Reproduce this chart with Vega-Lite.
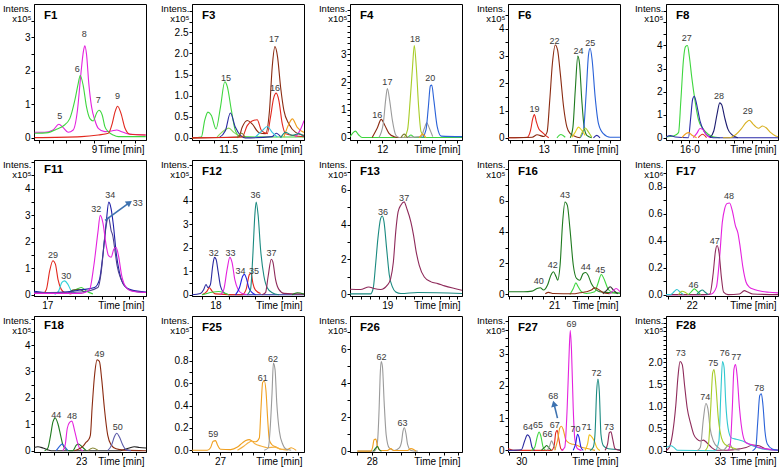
{
"$schema":"https://vega.github.io/schema/vega-lite/v6.json",
"background":"white",
"padding":{"left":1,"top":2,"right":0,"bottom":0},
"columns":5,
"spacing":{"row":20,"column":46},
"bounds":"flush",
"resolve":{"scale":{"color":"independent"}},
"config":{
 "view":{"stroke":"black","strokeWidth":1},
 "font":"Liberation Sans",
 "axis":{"grid":false,"domainColor":"black","tickColor":"black","tickSize":3,"labelFontSize":10,"labelColor":"black","labelPadding":1,"labelOverlap":false,"tickCount":100,"labelFont":"Liberation Sans","titleFont":"Liberation Sans","titleFontWeight":"normal","titleColor":"black"},
 "axisX":{"titleFontSize":10,"titleAlign":"right","titleBaseline":"alphabetic","titleX":110,"titleY":12.5,"labelPadding":1.5,"labelFlush":false,"labelOverlap":false},
 "axisY":{"titleAngle":0,"titleAlign":"right","titleBaseline":"top","titleX":-3,"titleY":-1,"titleFontSize":9.5,"titleLineHeight":10.5,"labelOverlap":false},
 "title":{"anchor":"start","frame":"group","offset":-18,"dx":10,"fontSize":11.5,"fontWeight":"bold","font":"Liberation Sans","color":"black","baseline":"alphabetic"},
 "line":{"strokeWidth":1.1,"interpolate":"monotone"},
 "text":{"fontSize":9,"color":"#3a3a3a","font":"Liberation Sans","baseline":"middle","align":"center"},
 "rule":{"color":"#3d72b0","strokeWidth":1.6}
},
"datasets":{
"F1":[
{"s":"5,8","t":8.568,"i":0.16},{"s":"5,8","t":8.641,"i":0.16},{"s":"5,8","t":8.702,"i":0.23},{"s":"5,8","t":8.744,"i":0.40},{"s":"5,8","t":8.776,"i":0.30},{"s":"5,8","t":8.812,"i":0.16},{"s":"5,8","t":8.849,"i":0.23},{"s":"5,8","t":8.880,"i":0.82},{"s":"5,8","t":8.905,"i":1.91},{"s":"5,8","t":8.924,"i":2.60},{"s":"5,8","t":8.934,"i":2.75},{"s":"5,8","t":8.946,"i":2.50},{"s":"5,8","t":8.963,"i":1.61},{"s":"5,8","t":8.983,"i":0.92},{"s":"5,8","t":9.007,"i":0.52},{"s":"5,8","t":9.032,"i":0.28},{"s":"5,8","t":9.080,"i":0.18},{"s":"5,8","t":9.129,"i":0.20},{"s":"5,8","t":9.166,"i":0.23},{"s":"5,8","t":9.202,"i":0.18},{"s":"5,8","t":9.251,"i":0.11},{"s":"5,8","t":9.378,"i":0.08},
{"s":"6,7","t":8.568,"i":0.13},{"s":"6,7","t":8.666,"i":0.15},{"s":"6,7","t":8.727,"i":0.25},{"s":"6,7","t":8.776,"i":0.35},{"s":"6,7","t":8.824,"i":0.57},{"s":"6,7","t":8.861,"i":1.12},{"s":"6,7","t":8.885,"i":1.61},{"s":"6,7","t":8.900,"i":1.86},{"s":"6,7","t":8.922,"i":1.56},{"s":"6,7","t":8.946,"i":0.92},{"s":"6,7","t":8.971,"i":0.57},{"s":"6,7","t":8.995,"i":0.50},{"s":"6,7","t":9.020,"i":0.74},{"s":"6,7","t":9.037,"i":0.82},{"s":"6,7","t":9.061,"i":0.67},{"s":"6,7","t":9.080,"i":0.33},{"s":"6,7","t":9.105,"i":0.18},{"s":"6,7","t":9.141,"i":0.08},{"s":"6,7","t":9.178,"i":0.03},{"s":"6,7","t":9.378,"i":0.03},
{"s":"9","t":8.568,"i":0.0},{"s":"9","t":8.910,"i":0.03},{"s":"9","t":9.032,"i":0.08},{"s":"9","t":9.105,"i":0.13},{"s":"9","t":9.134,"i":0.43},{"s":"9","t":9.154,"i":0.77},{"s":"9","t":9.173,"i":0.94},{"s":"9","t":9.198,"i":0.72},{"s":"9","t":9.227,"i":0.28},{"s":"9","t":9.263,"i":0.10},{"s":"9","t":9.378,"i":0.08}
],
"F1L":[{"l":"5","t":8.751,"i":0.64},{"l":"6","t":8.878,"i":2.04},{"l":"8","t":8.929,"i":3.10},{"l":"7","t":9.032,"i":1.12},{"l":"9","t":9.173,"i":1.25}],
"F3":[
{"s":"15","t":11.249,"i":0},{"s":"15","t":11.314,"i":0.02},{"s":"15","t":11.337,"i":0.41},{"s":"15","t":11.360,"i":0.61},{"s":"15","t":11.384,"i":0.53},{"s":"15","t":11.416,"i":0.21},{"s":"15","t":11.447,"i":0.73},{"s":"15","t":11.477,"i":1.33},{"s":"15","t":11.495,"i":1.21},{"s":"15","t":11.523,"i":0.65},{"s":"15","t":11.551,"i":0.17},{"s":"15","t":11.586,"i":0.03},{"s":"15","t":11.800,"i":0.02},{"s":"15","t":12.028,"i":0.02},
{"s":"x1","t":11.423,"i":0.02},{"s":"x1","t":11.470,"i":0.17},{"s":"x1","t":11.505,"i":0.23},{"s":"x1","t":11.540,"i":0.13},{"s":"x1","t":11.586,"i":0.02},
{"s":"x2","t":11.435,"i":0},{"s":"x2","t":11.481,"i":0.17},{"s":"x2","t":11.516,"i":0.59},{"s":"x2","t":11.551,"i":0.25},{"s":"x2","t":11.586,"i":0.06},{"s":"x2","t":11.621,"i":0},{"s":"x2","t":11.807,"i":0.03},{"s":"x2","t":11.835,"i":0.11},{"s":"x2","t":11.865,"i":0.03},
{"s":"17","t":11.249,"i":0},{"s":"17","t":11.574,"i":0.02},{"s":"17","t":11.598,"i":0.25},{"s":"17","t":11.633,"i":0.41},{"s":"17","t":11.667,"i":0.33},{"s":"17","t":11.714,"i":0.13},{"s":"17","t":11.760,"i":0.10},{"s":"17","t":11.788,"i":0.65},{"s":"17","t":11.807,"i":1.68},{"s":"17","t":11.826,"i":2.16},{"s":"17","t":11.844,"i":1.92},{"s":"17","t":11.865,"i":1.21},{"s":"17","t":11.888,"i":0.65},{"s":"17","t":11.923,"i":0.33},{"s":"17","t":11.970,"i":0.13},{"s":"17","t":12.028,"i":0.06},
{"s":"16","t":11.249,"i":0},{"s":"16","t":11.598,"i":0.02},{"s":"16","t":11.633,"i":0.29},{"s":"16","t":11.667,"i":0.40},{"s":"16","t":11.702,"i":0.43},{"s":"16","t":11.733,"i":0.17},{"s":"16","t":11.772,"i":0.10},{"s":"16","t":11.795,"i":0.49},{"s":"16","t":11.816,"i":0.93},{"s":"16","t":11.835,"i":1.06},{"s":"16","t":11.853,"i":0.89},{"s":"16","t":11.877,"i":0.33},{"s":"16","t":11.900,"i":0.10},{"s":"16","t":12.028,"i":0.03},
{"s":"x3","t":11.691,"i":0.02},{"s":"x3","t":11.737,"i":0.17},{"s":"x3","t":11.772,"i":0.27},{"s":"x3","t":11.807,"i":0.13},{"s":"x3","t":11.842,"i":0.02},
{"s":"x4","t":11.888,"i":0.02},{"s":"x4","t":11.923,"i":0.33},{"s":"x4","t":11.947,"i":0.45},{"s":"x4","t":11.981,"i":0.25},{"s":"x4","t":12.028,"i":0.13},
{"s":"x5","t":11.970,"i":0.02},{"s":"x5","t":12.005,"i":0.21},{"s":"x5","t":12.028,"i":0.41},
{"s":"x6","t":11.563,"i":0},{"s":"x6","t":11.593,"i":0.11},{"s":"x6","t":11.621,"i":0},
{"s":"x7","t":11.865,"i":0},{"s":"x7","t":11.900,"i":0.13},{"s":"x7","t":11.947,"i":0.06},{"s":"x7","t":11.993,"i":0.10},{"s":"x7","t":12.028,"i":0.03}
],
"F3L":[{"l":"15","t":11.486,"i":1.42},{"l":"17","t":11.819,"i":2.34},{"l":"16","t":11.826,"i":1.19}],
"F4":[
{"s":"x1","t":11.741,"i":0.04},{"s":"x1","t":11.762,"i":0.16},{"s":"x1","t":11.784,"i":0.24},{"s":"x1","t":11.811,"i":0.10},{"s":"x1","t":11.838,"i":0.01},{"s":"x1","t":12.203,"i":0.01},{"s":"x1","t":12.230,"i":0.10},{"s":"x1","t":12.257,"i":0.01},{"s":"x1","t":12.640,"i":0.01},
{"s":"16","t":11.919,"i":0.01},{"s":"16","t":11.959,"i":0.34},{"s":"16","t":11.992,"i":0.66},{"s":"16","t":12.019,"i":0.46},{"s":"16","t":12.054,"i":0.16},{"s":"16","t":12.095,"i":0.04},{"s":"16","t":12.135,"i":0.01},
{"s":"17","t":11.973,"i":0.01},{"s":"17","t":12.008,"i":0.51},{"s":"17","t":12.027,"i":1.35},{"s":"17","t":12.041,"i":1.77},{"s":"17","t":12.059,"i":1.35},{"s":"17","t":12.081,"i":0.63},{"s":"17","t":12.108,"i":0.10},{"s":"17","t":12.135,"i":0.01},{"s":"17","t":12.311,"i":0.04},{"s":"17","t":12.338,"i":0.34},{"s":"17","t":12.357,"i":0.54},{"s":"17","t":12.378,"i":0.34},{"s":"17","t":12.405,"i":0.04},
{"s":"18","t":12.176,"i":0.01},{"s":"18","t":12.203,"i":0.28},{"s":"18","t":12.224,"i":1.35},{"s":"18","t":12.243,"i":2.55},{"s":"18","t":12.257,"i":3.31},{"s":"18","t":12.273,"i":2.55},{"s":"18","t":12.292,"i":1.11},{"s":"18","t":12.311,"i":0.22},{"s":"18","t":12.338,"i":0.04},
{"s":"20","t":12.324,"i":0.01},{"s":"20","t":12.351,"i":0.28},{"s":"20","t":12.370,"i":1.11},{"s":"20","t":12.386,"i":1.86},{"s":"20","t":12.397,"i":1.89},{"s":"20","t":12.414,"i":1.35},{"s":"20","t":12.441,"i":0.40},{"s":"20","t":12.473,"i":0.06},{"s":"20","t":12.640,"i":0.04},
{"s":"x2","t":12.149,"i":0},{"s":"x2","t":12.176,"i":0.13},{"s":"x2","t":12.203,"i":0},
{"s":"x3","t":12.297,"i":0},{"s":"x3","t":12.324,"i":0.13},{"s":"x3","t":12.351,"i":0}
],
"F4L":[{"l":"16","t":11.959,"i":0.81},{"l":"17","t":12.041,"i":2.01},{"l":"18","t":12.262,"i":3.54},{"l":"20","t":12.386,"i":2.16}],
"F6":[
{"s":"19","t":12.678,"i":0},{"s":"19","t":12.851,"i":0.02},{"s":"19","t":12.881,"i":0.27},{"s":"19","t":12.901,"i":0.70},{"s":"19","t":12.916,"i":0.85},{"s":"19","t":12.934,"i":0.58},{"s":"19","t":12.955,"i":0.33},{"s":"19","t":12.985,"i":0.21},{"s":"19","t":13.015,"i":0.09},{"s":"19","t":13.045,"i":0},
{"s":"22","t":12.678,"i":0},{"s":"22","t":12.896,"i":0.02},{"s":"22","t":12.940,"i":0.11},{"s":"22","t":13.000,"i":0.05},{"s":"22","t":13.030,"i":0.21},{"s":"22","t":13.054,"i":1.37},{"s":"22","t":13.078,"i":2.72},{"s":"22","t":13.104,"i":3.40},{"s":"22","t":13.125,"i":3.21},{"s":"22","t":13.149,"i":2.36},{"s":"22","t":13.179,"i":1.13},{"s":"22","t":13.209,"i":0.39},{"s":"22","t":13.239,"i":0.15},{"s":"22","t":13.284,"i":0.05},{"s":"22","t":13.328,"i":0},
{"s":"24","t":13.239,"i":0},{"s":"24","t":13.263,"i":0.39},{"s":"24","t":13.284,"i":1.74},{"s":"24","t":13.307,"i":2.99},{"s":"24","t":13.322,"i":2.72},{"s":"24","t":13.343,"i":1.37},{"s":"24","t":13.364,"i":0.39},{"s":"24","t":13.388,"i":0.09},{"s":"24","t":13.433,"i":0},
{"s":"25","t":13.328,"i":0},{"s":"25","t":13.358,"i":0.27},{"s":"25","t":13.382,"i":1.62},{"s":"25","t":13.403,"i":3.03},{"s":"25","t":13.418,"i":3.28},{"s":"25","t":13.436,"i":2.85},{"s":"25","t":13.463,"i":1.50},{"s":"25","t":13.493,"i":0.52},{"s":"25","t":13.537,"i":0.15},{"s":"25","t":13.597,"i":0.02},{"s":"25","t":13.687,"i":0.02},
{"s":"x1","t":13.254,"i":0.02},{"s":"x1","t":13.284,"i":0.21},{"s":"x1","t":13.313,"i":0.39},{"s":"x1","t":13.343,"i":0.27},{"s":"x1","t":13.373,"i":0.09},
{"s":"x2","t":13.328,"i":0.02},{"s":"x2","t":13.352,"i":0.25},{"s":"x2","t":13.373,"i":0.36},{"s":"x2","t":13.403,"i":0.21},{"s":"x2","t":13.433,"i":0.02},
{"s":"x3","t":13.119,"i":0},{"s":"x3","t":13.155,"i":0.12},{"s":"x3","t":13.194,"i":0.02},
{"s":"x4","t":13.448,"i":0},{"s":"x4","t":13.478,"i":0.09},{"s":"x4","t":13.507,"i":0}
],
"F6L":[{"l":"19","t":12.916,"i":1.07},{"l":"22","t":13.096,"i":3.56},{"l":"24","t":13.313,"i":3.19},{"l":"25","t":13.418,"i":3.46}],
"F8":[
{"s":"27","t":15.737,"i":0.03},{"s":"27","t":15.822,"i":0.07},{"s":"27","t":15.878,"i":0.22},{"s":"27","t":15.904,"i":1.61},{"s":"27","t":15.933,"i":3.37},{"s":"27","t":15.956,"i":3.95},{"s":"27","t":15.978,"i":4.00},{"s":"27","t":16.000,"i":3.51},{"s":"27","t":16.026,"i":2.64},{"s":"27","t":16.063,"i":1.61},{"s":"27","t":16.100,"i":0.81},{"s":"27","t":16.156,"i":0.37},{"s":"27","t":16.211,"i":0.15},{"s":"27","t":16.267,"i":0.04},{"s":"27","t":16.341,"i":0},
{"s":"x1","t":15.737,"i":0.03},{"s":"x1","t":15.785,"i":0.09},{"s":"x1","t":15.841,"i":0.03},{"s":"x1","t":15.989,"i":0},{"s":"x1","t":16.015,"i":0.88},{"s":"x1","t":16.037,"i":1.68},{"s":"x1","t":16.056,"i":1.80},{"s":"x1","t":16.081,"i":1.46},{"s":"x1","t":16.119,"i":0.73},{"s":"x1","t":16.163,"i":0.29},{"s":"x1","t":16.211,"i":0.07},{"s":"x1","t":16.267,"i":0},{"s":"x1","t":16.996,"i":0},
{"s":"28","t":16.230,"i":0},{"s":"28","t":16.274,"i":0.29},{"s":"28","t":16.311,"i":1.02},{"s":"28","t":16.341,"i":1.51},{"s":"28","t":16.363,"i":1.43},{"s":"28","t":16.396,"i":0.88},{"s":"28","t":16.433,"i":0.37},{"s":"28","t":16.481,"i":0.12},{"s":"28","t":16.544,"i":0},
{"s":"x2","t":16.044,"i":0},{"s":"x2","t":16.089,"i":0.22},{"s":"x2","t":16.119,"i":0.40},{"s":"x2","t":16.148,"i":0.37},{"s":"x2","t":16.185,"i":0.15},{"s":"x2","t":16.230,"i":0},
{"s":"x3","t":15.915,"i":0},{"s":"x3","t":15.963,"i":0.18},{"s":"x3","t":15.989,"i":0.22},{"s":"x3","t":16.026,"i":0.12},{"s":"x3","t":16.081,"i":0},
{"s":"29","t":16.378,"i":0},{"s":"29","t":16.452,"i":0},{"s":"29","t":16.526,"i":0.15},{"s":"29","t":16.581,"i":0.37},{"s":"29","t":16.637,"i":0.66},{"s":"29","t":16.674,"i":0.76},{"s":"29","t":16.711,"i":0.61},{"s":"29","t":16.748,"i":0.47},{"s":"29","t":16.778,"i":0.41},{"s":"29","t":16.822,"i":0.51},{"s":"29","t":16.859,"i":0.44},{"s":"29","t":16.915,"i":0.22},{"s":"29","t":16.970,"i":0.07},{"s":"29","t":16.996,"i":0.04},
{"s":"x4","t":16.100,"i":0},{"s":"x4","t":16.148,"i":0.15},{"s":"x4","t":16.193,"i":0}
],
"F8L":[{"l":"27","t":15.970,"i":4.32},{"l":"28","t":16.333,"i":1.80},{"l":"29","t":16.656,"i":1.17}],
"F11":[
{"s":"29","t":16.902,"i":0.05},{"s":"29","t":16.968,"i":0.05},{"s":"29","t":16.993,"i":0.20},{"s":"29","t":17.017,"i":0.90},{"s":"29","t":17.041,"i":1.28},{"s":"29","t":17.059,"i":1.15},{"s":"29","t":17.078,"i":0.58},{"s":"29","t":17.102,"i":0.20},{"s":"29","t":17.127,"i":0.08},{"s":"29","t":17.176,"i":0.03},
{"s":"30","t":17.054,"i":0.01},{"s":"30","t":17.083,"i":0.14},{"s":"30","t":17.107,"i":0.46},{"s":"30","t":17.127,"i":0.52},{"s":"30","t":17.151,"i":0.39},{"s":"30","t":17.176,"i":0.14},{"s":"30","t":17.212,"i":0.05},
{"s":"x1","t":17.163,"i":0.03},{"s":"x1","t":17.212,"i":0.20},{"s":"x1","t":17.249,"i":0.27},{"s":"x1","t":17.285,"i":0.14},{"s":"x1","t":17.334,"i":0.03},
{"s":"x2","t":17.151,"i":0.05},{"s":"x2","t":17.195,"i":0.18},{"s":"x2","t":17.237,"i":0.20},{"s":"x2","t":17.273,"i":0.08},
{"s":"34","t":16.902,"i":0.13},{"s":"34","t":17.005,"i":0.08},{"s":"34","t":17.127,"i":0.10},{"s":"34","t":17.249,"i":0.18},{"s":"34","t":17.346,"i":0.27},{"s":"34","t":17.383,"i":0.58},{"s":"34","t":17.407,"i":1.47},{"s":"34","t":17.432,"i":2.73},{"s":"34","t":17.451,"i":3.49},{"s":"34","t":17.468,"i":3.24},{"s":"34","t":17.485,"i":2.61},{"s":"34","t":17.505,"i":1.59},{"s":"34","t":17.529,"i":0.84},{"s":"34","t":17.566,"i":0.33},{"s":"34","t":17.615,"i":0.18},{"s":"34","t":17.724,"i":0.10},
{"s":"33","t":16.902,"i":0.08},{"s":"33","t":17.249,"i":0.10},{"s":"33","t":17.371,"i":0.27},{"s":"33","t":17.395,"i":0.84},{"s":"33","t":17.415,"i":1.85},{"s":"33","t":17.432,"i":2.61},{"s":"33","t":17.449,"i":2.92},{"s":"33","t":17.468,"i":2.42},{"s":"33","t":17.480,"i":2.23},{"s":"33","t":17.498,"i":1.59},{"s":"33","t":17.512,"i":1.09},{"s":"33","t":17.541,"i":0.58},{"s":"33","t":17.578,"i":0.27},{"s":"33","t":17.627,"i":0.14},{"s":"33","t":17.724,"i":0.08},
{"s":"32","t":16.902,"i":0.05},{"s":"32","t":17.249,"i":0.05},{"s":"32","t":17.310,"i":0.20},{"s":"32","t":17.341,"i":1.09},{"s":"32","t":17.371,"i":2.35},{"s":"32","t":17.388,"i":2.99},{"s":"32","t":17.407,"i":2.73},{"s":"32","t":17.432,"i":1.85},{"s":"32","t":17.449,"i":1.47},{"s":"32","t":17.468,"i":1.41},{"s":"32","t":17.488,"i":1.72},{"s":"32","t":17.505,"i":1.78},{"s":"32","t":17.522,"i":1.47},{"s":"32","t":17.546,"i":0.71},{"s":"32","t":17.578,"i":0.27},{"s":"32","t":17.615,"i":0.14},{"s":"32","t":17.724,"i":0.08}
],
"F11L":[{"l":"29","t":17.041,"i":1.51},{"l":"30","t":17.139,"i":0.71},{"l":"32","t":17.359,"i":3.24},{"l":"34","t":17.461,"i":3.77},{"l":"33","t":17.663,"i":3.47}],
"F11A":[{"t":17.424,"i":2.80,"t2":17.602,"i2":3.47}],
"F12":[
{"s":"32","t":17.825,"i":0},{"s":"32","t":17.888,"i":0.06},{"s":"32","t":17.913,"i":0.23},{"s":"32","t":17.930,"i":0.44},{"s":"32","t":17.945,"i":0.30},{"s":"32","t":17.963,"i":0.44},{"s":"32","t":17.980,"i":1.23},{"s":"32","t":17.993,"i":1.59},{"s":"32","t":18.005,"i":1.51},{"s":"32","t":18.020,"i":1.01},{"s":"32","t":18.038,"i":0.37},{"s":"32","t":18.063,"i":0.09},{"s":"32","t":18.100,"i":0},{"s":"32","t":18.663,"i":0},
{"s":"35","t":17.900,"i":0},{"s":"35","t":17.938,"i":0.16},{"s":"35","t":17.955,"i":0.30},{"s":"35","t":17.975,"i":0.16},{"s":"35","t":18.000,"i":0.04},{"s":"35","t":18.200,"i":0},{"s":"35","t":18.230,"i":0.23},{"s":"35","t":18.255,"i":0.87},{"s":"35","t":18.268,"i":0.91},{"s":"35","t":18.280,"i":0.51},{"s":"35","t":18.300,"i":0.20},{"s":"35","t":18.338,"i":0.06},
{"s":"x1","t":17.900,"i":0},{"s":"x1","t":17.975,"i":0.11},{"s":"x1","t":18.025,"i":0.14},{"s":"x1","t":18.063,"i":0.09},{"s":"x1","t":18.100,"i":0},
{"s":"33","t":18.038,"i":0},{"s":"33","t":18.063,"i":0.23},{"s":"33","t":18.088,"i":1.09},{"s":"33","t":18.108,"i":1.59},{"s":"33","t":18.125,"i":1.37},{"s":"33","t":18.145,"i":0.66},{"s":"33","t":18.170,"i":0.23},{"s":"33","t":18.200,"i":0.06},{"s":"33","t":18.250,"i":0},
{"s":"34","t":18.150,"i":0},{"s":"34","t":18.180,"i":0.30},{"s":"34","t":18.205,"i":0.80},{"s":"34","t":18.218,"i":0.87},{"s":"34","t":18.230,"i":0.73},{"s":"34","t":18.250,"i":0.30},{"s":"34","t":18.275,"i":0.09},{"s":"34","t":18.300,"i":0},
{"s":"36","t":18.238,"i":0},{"s":"36","t":18.263,"i":0.23},{"s":"36","t":18.280,"i":1.66},{"s":"36","t":18.295,"i":3.37},{"s":"36","t":18.305,"i":3.94},{"s":"36","t":18.320,"i":3.37},{"s":"36","t":18.338,"i":1.94},{"s":"36","t":18.363,"i":0.80},{"s":"36","t":18.388,"i":0.30},{"s":"36","t":18.425,"i":0.09},{"s":"36","t":18.475,"i":0},
{"s":"37","t":18.350,"i":0},{"s":"37","t":18.375,"i":0.09},{"s":"37","t":18.395,"i":0.80},{"s":"37","t":18.418,"i":1.51},{"s":"37","t":18.430,"i":1.40},{"s":"37","t":18.450,"i":0.66},{"s":"37","t":18.475,"i":0.23},{"s":"37","t":18.513,"i":0.06},{"s":"37","t":18.663,"i":0.03},
{"s":"x2","t":18.575,"i":0},{"s":"x2","t":18.613,"i":0.09},{"s":"x2","t":18.663,"i":0.03}
],
"F12L":[{"l":"32","t":17.988,"i":1.77},{"l":"33","t":18.113,"i":1.77},{"l":"34","t":18.188,"i":1.01},{"l":"35","t":18.288,"i":1.01},{"l":"36","t":18.300,"i":4.23},{"l":"37","t":18.420,"i":1.77}],
"F13":[
{"s":"36","t":18.573,"i":0.02},{"s":"36","t":18.808,"i":0.02},{"s":"36","t":18.838,"i":0.33},{"s":"36","t":18.865,"i":1.66},{"s":"36","t":18.892,"i":3.19},{"s":"36","t":18.923,"i":4.34},{"s":"36","t":18.942,"i":4.49},{"s":"36","t":18.962,"i":4.15},{"s":"36","t":18.992,"i":2.62},{"s":"36","t":19.023,"i":1.09},{"s":"36","t":19.058,"i":0.42},{"s":"36","t":19.096,"i":0.13},{"s":"36","t":19.154,"i":0.04},{"s":"36","t":19.346,"i":0.10},{"s":"36","t":19.854,"i":0.04},
{"s":"37","t":18.573,"i":0.29},{"s":"37","t":18.692,"i":0.27},{"s":"37","t":18.788,"i":0.42},{"s":"37","t":18.846,"i":0.33},{"s":"37","t":18.923,"i":0.27},{"s":"37","t":19.000,"i":0.52},{"s":"37","t":19.038,"i":0.90},{"s":"37","t":19.069,"i":1.85},{"s":"37","t":19.096,"i":3.58},{"s":"37","t":19.123,"i":4.72},{"s":"37","t":19.154,"i":5.11},{"s":"37","t":19.192,"i":5.30},{"s":"37","t":19.223,"i":4.91},{"s":"37","t":19.269,"i":4.15},{"s":"37","t":19.300,"i":3.38},{"s":"37","t":19.327,"i":2.52},{"s":"37","t":19.365,"i":1.66},{"s":"37","t":19.423,"i":0.99},{"s":"37","t":19.500,"i":0.71},{"s":"37","t":19.577,"i":0.61},{"s":"37","t":19.654,"i":0.48},{"s":"37","t":19.769,"i":0.33},{"s":"37","t":19.854,"i":0.23}
],
"F13L":[{"l":"36","t":18.950,"i":4.72},{"l":"37","t":19.192,"i":5.54}],
"F16":[
{"s":"40-44","t":20.588,"i":0.17},{"s":"40-44","t":20.729,"i":0.17},{"s":"40-44","t":20.803,"i":0.21},{"s":"40-44","t":20.847,"i":0.38},{"s":"40-44","t":20.876,"i":0.43},{"s":"40-44","t":20.906,"i":0.28},{"s":"40-44","t":20.941,"i":0.60},{"s":"40-44","t":20.971,"i":1.23},{"s":"40-44","t":20.994,"i":1.45},{"s":"40-44","t":21.018,"i":1.13},{"s":"40-44","t":21.032,"i":0.91},{"s":"40-44","t":21.053,"i":1.87},{"s":"40-44","t":21.076,"i":4.64},{"s":"40-44","t":21.097,"i":5.91},{"s":"40-44","t":21.118,"i":5.70},{"s":"40-44","t":21.141,"i":4.21},{"s":"40-44","t":21.171,"i":1.87},{"s":"40-44","t":21.200,"i":1.02},{"s":"40-44","t":21.229,"i":0.91},{"s":"40-44","t":21.259,"i":1.34},{"s":"40-44","t":21.282,"i":1.40},{"s":"40-44","t":21.303,"i":1.23},{"s":"40-44","t":21.332,"i":0.70},{"s":"40-44","t":21.362,"i":0.38},{"s":"40-44","t":21.406,"i":0.17},{"s":"40-44","t":21.465,"i":0.13},{"s":"40-44","t":21.588,"i":0.09},
{"s":"45","t":21.141,"i":0},{"s":"45","t":21.171,"i":0.38},{"s":"45","t":21.194,"i":0.74},{"s":"45","t":21.215,"i":0.49},{"s":"45","t":21.244,"i":0.17},{"s":"45","t":21.288,"i":0.06},{"s":"45","t":21.362,"i":0.17},{"s":"45","t":21.391,"i":0.70},{"s":"45","t":21.421,"i":1.28},{"s":"45","t":21.450,"i":0.91},{"s":"45","t":21.479,"i":0.38},{"s":"45","t":21.509,"i":0.17},{"s":"45","t":21.588,"i":0.06},
{"s":"x1","t":20.921,"i":0.04},{"s":"x1","t":20.950,"i":0.13},{"s":"x1","t":20.994,"i":0.06},{"s":"x1","t":21.171,"i":0.04},{"s":"x1","t":21.229,"i":0.11},{"s":"x1","t":21.288,"i":0.17},{"s":"x1","t":21.332,"i":0.28},{"s":"x1","t":21.362,"i":0.43},{"s":"x1","t":21.391,"i":0.34},{"s":"x1","t":21.435,"i":0.13},{"s":"x1","t":21.494,"i":0.04},
{"s":"x2","t":21.435,"i":0.04},{"s":"x2","t":21.471,"i":0.28},{"s":"x2","t":21.500,"i":0.49},{"s":"x2","t":21.529,"i":0.28},{"s":"x2","t":21.568,"i":0.04},
{"s":"x3","t":21.494,"i":0.04},{"s":"x3","t":21.524,"i":0.21},{"s":"x3","t":21.553,"i":0.38},{"s":"x3","t":21.588,"i":0.17}
],
"F16L":[{"l":"40","t":20.862,"i":0.85},{"l":"42","t":20.988,"i":1.91},{"l":"43","t":21.097,"i":6.38},{"l":"44","t":21.282,"i":1.77},{"l":"45","t":21.412,"i":1.55}],
"F17":[
{"s":"48","t":21.783,"i":0},{"s":"48","t":22.125,"i":0},{"s":"48","t":22.167,"i":0.005},{"s":"48","t":22.208,"i":0.056},{"s":"48","t":22.236,"i":0.284},{"s":"48","t":22.258,"i":0.537},{"s":"48","t":22.278,"i":0.638},{"s":"48","t":22.297,"i":0.676},{"s":"48","t":22.319,"i":0.681},{"s":"48","t":22.342,"i":0.625},{"s":"48","t":22.369,"i":0.511},{"s":"48","t":22.389,"i":0.461},{"s":"48","t":22.408,"i":0.359},{"s":"48","t":22.431,"i":0.208},{"s":"48","t":22.458,"i":0.094},{"s":"48","t":22.486,"i":0.056},{"s":"48","t":22.528,"i":0.038},{"s":"48","t":22.597,"i":0.023},{"s":"48","t":22.653,"i":0.018},{"s":"48","t":22.728,"i":0.013},
{"s":"47","t":21.783,"i":0},{"s":"47","t":22.097,"i":0},{"s":"47","t":22.153,"i":0.005},{"s":"47","t":22.181,"i":0.157},{"s":"47","t":22.200,"i":0.322},{"s":"47","t":22.214,"i":0.365},{"s":"47","t":22.231,"i":0.309},{"s":"47","t":22.250,"i":0.132},{"s":"47","t":22.269,"i":0.018},{"s":"47","t":22.306,"i":0},{"s":"47","t":22.403,"i":0.005},{"s":"47","t":22.444,"i":0.030},{"s":"47","t":22.472,"i":0.020},{"s":"47","t":22.514,"i":0.005},{"s":"47","t":22.728,"i":0},
{"s":"x1","t":21.783,"i":0},{"s":"x1","t":21.819,"i":0},{"s":"x1","t":21.853,"i":0.023},{"s":"x1","t":21.875,"i":0.038},{"s":"x1","t":21.903,"i":0.018},{"s":"x1","t":21.931,"i":0},
{"s":"x2","t":21.889,"i":0},{"s":"x2","t":21.917,"i":0.025},{"s":"x2","t":21.944,"i":0.018},{"s":"x2","t":21.972,"i":0},
{"s":"46","t":21.972,"i":0},{"s":"46","t":22.000,"i":0.025},{"s":"46","t":22.022,"i":0.043},{"s":"46","t":22.047,"i":0.025},{"s":"46","t":22.075,"i":0},
{"s":"x3","t":22.042,"i":0},{"s":"x3","t":22.069,"i":0.025},{"s":"x3","t":22.089,"i":0.035},{"s":"x3","t":22.111,"i":0.020},{"s":"x3","t":22.139,"i":0}
],
"F17L":[{"l":"46","t":22.014,"i":0.073},{"l":"47","t":22.194,"i":0.40},{"l":"48","t":22.314,"i":0.73}],
"F18":[
{"s":"x1","t":22.654,"i":0.12},{"s":"x1","t":22.683,"i":0.15},{"s":"x1","t":22.720,"i":0.10},{"s":"x1","t":22.751,"i":0.04},{"s":"x1","t":22.780,"i":0},{"s":"x1","t":23.290,"i":0},{"s":"x1","t":23.317,"i":0.04},{"s":"x1","t":23.354,"i":0.10},{"s":"x1","t":23.390,"i":0.15},{"s":"x1","t":23.427,"i":0.12},{"s":"x1","t":23.476,"i":0.10},
{"s":"44","t":22.732,"i":0},{"s":"44","t":22.756,"i":0.10},{"s":"44","t":22.776,"i":0.59},{"s":"44","t":22.793,"i":1.09},{"s":"44","t":22.810,"i":1.24},{"s":"44","t":22.829,"i":1.03},{"s":"44","t":22.849,"i":0.59},{"s":"44","t":22.866,"i":0.22},{"s":"44","t":22.890,"i":0.04},{"s":"44","t":22.915,"i":0},{"s":"44","t":22.939,"i":0},{"s":"44","t":22.963,"i":0.20},{"s":"44","t":22.980,"i":0.25},{"s":"44","t":23.005,"i":0.16},{"s":"44","t":23.037,"i":0},
{"s":"x2","t":22.817,"i":0},{"s":"x2","t":22.841,"i":0.16},{"s":"x2","t":22.859,"i":0.25},{"s":"x2","t":22.878,"i":0.16},{"s":"x2","t":22.902,"i":0},
{"s":"48","t":22.866,"i":0},{"s":"48","t":22.883,"i":0.22},{"s":"48","t":22.898,"i":0.84},{"s":"48","t":22.915,"i":1.07},{"s":"48","t":22.932,"i":1.12},{"s":"48","t":22.951,"i":0.78},{"s":"48","t":22.971,"i":0.35},{"s":"48","t":22.988,"i":0.10},{"s":"48","t":23.012,"i":0},
{"s":"49","t":22.951,"i":0},{"s":"49","t":22.976,"i":0.04},{"s":"49","t":23.012,"i":0.16},{"s":"49","t":23.037,"i":0.32},{"s":"49","t":23.054,"i":0.41},{"s":"49","t":23.068,"i":0.59},{"s":"49","t":23.080,"i":1.59},{"s":"49","t":23.098,"i":2.83},{"s":"49","t":23.117,"i":3.44},{"s":"49","t":23.134,"i":3.38},{"s":"49","t":23.151,"i":2.70},{"s":"49","t":23.171,"i":1.59},{"s":"49","t":23.195,"i":0.59},{"s":"49","t":23.220,"i":0.22},{"s":"49","t":23.256,"i":0.07},{"s":"49","t":23.317,"i":0.02},{"s":"49","t":23.476,"i":0},
{"s":"50","t":23.195,"i":0},{"s":"50","t":23.224,"i":0.22},{"s":"50","t":23.244,"i":0.53},{"s":"50","t":23.261,"i":0.66},{"s":"50","t":23.280,"i":0.53},{"s":"50","t":23.305,"i":0.22},{"s":"50","t":23.329,"i":0.04},{"s":"50","t":23.366,"i":0},
{"s":"x3","t":23.049,"i":0},{"s":"x3","t":23.085,"i":0.10},{"s":"x3","t":23.122,"i":0.02}
],
"F18L":[{"l":"44","t":22.817,"i":1.36},{"l":"48","t":22.932,"i":1.31},{"l":"49","t":23.134,"i":3.67},{"l":"50","t":23.268,"i":0.88}],
"F25":[
{"s":"59,61","t":26.748,"i":0},{"s":"59,61","t":26.885,"i":0},{"s":"59,61","t":26.915,"i":0.023},{"s":"59,61","t":26.939,"i":0.081},{"s":"59,61","t":26.961,"i":0.087},{"s":"59,61","t":26.976,"i":0.052},{"s":"59,61","t":27.006,"i":0.009},{"s":"59,61","t":27.097,"i":0.006},{"s":"59,61","t":27.158,"i":0.029},{"s":"59,61","t":27.203,"i":0.067},{"s":"59,61","t":27.233,"i":0.087},{"s":"59,61","t":27.264,"i":0.096},{"s":"59,61","t":27.294,"i":0.081},{"s":"59,61","t":27.324,"i":0.076},{"s":"59,61","t":27.355,"i":0.110},{"s":"59,61","t":27.370,"i":0.372},{"s":"59,61","t":27.385,"i":0.605},{"s":"59,61","t":27.400,"i":0.619},{"s":"59,61","t":27.415,"i":0.532},{"s":"59,61","t":27.430,"i":0.285},{"s":"59,61","t":27.445,"i":0.096},{"s":"59,61","t":27.467,"i":0.052},{"s":"59,61","t":27.506,"i":0.029},{"s":"59,61","t":27.552,"i":0.009},{"s":"59,61","t":27.612,"i":0.009},{"s":"59,61","t":27.642,"i":0.023},{"s":"59,61","t":27.688,"i":0},
{"s":"x1","t":27.158,"i":0},{"s":"x1","t":27.218,"i":0.038},{"s":"x1","t":27.255,"i":0.067},{"s":"x1","t":27.285,"i":0.081},{"s":"x1","t":27.315,"i":0.058},{"s":"x1","t":27.370,"i":0.038},{"s":"x1","t":27.430,"i":0.023},{"s":"x1","t":27.491,"i":0.029},{"s":"x1","t":27.552,"i":0.009},{"s":"x1","t":27.612,"i":0},
{"s":"62","t":27.400,"i":0},{"s":"62","t":27.436,"i":0.023},{"s":"62","t":27.455,"i":0.227},{"s":"62","t":27.470,"i":0.517},{"s":"62","t":27.482,"i":0.779},{"s":"62","t":27.497,"i":0.721},{"s":"62","t":27.512,"i":0.430},{"s":"62","t":27.536,"i":0.169},{"s":"62","t":27.567,"i":0.052},{"s":"62","t":27.597,"i":0.009},{"s":"62","t":27.642,"i":0}
],
"F25L":[{"l":"59","t":26.939,"i":0.15},{"l":"61","t":27.385,"i":0.65},{"l":"62","t":27.479,"i":0.82}],
"F26":[
{"s":"62,63","t":27.900,"i":0},{"s":"62,63","t":28.016,"i":0},{"s":"62,63","t":28.028,"i":0.10},{"s":"62,63","t":28.040,"i":0.57},{"s":"62,63","t":28.051,"i":2.49},{"s":"62,63","t":28.058,"i":4.41},{"s":"62,63","t":28.065,"i":5.27},{"s":"62,63","t":28.074,"i":4.98},{"s":"62,63","t":28.086,"i":2.87},{"s":"62,63","t":28.100,"i":0.96},{"s":"62,63","t":28.121,"i":0.19},{"s":"62,63","t":28.156,"i":0.04},{"s":"62,63","t":28.191,"i":0.19},{"s":"62,63","t":28.207,"i":0.57},{"s":"62,63","t":28.216,"i":1.15},{"s":"62,63","t":28.226,"i":1.38},{"s":"62,63","t":28.237,"i":1.05},{"s":"62,63","t":28.249,"i":0.38},{"s":"62,63","t":28.272,"i":0.04},{"s":"62,63","t":28.319,"i":0},
{"s":"x1","t":27.900,"i":0},{"s":"x1","t":27.993,"i":0},{"s":"x1","t":28.005,"i":0.19},{"s":"x1","t":28.016,"i":0.67},{"s":"x1","t":28.028,"i":0.71},{"s":"x1","t":28.040,"i":0.29},{"s":"x1","t":28.063,"i":0.04},{"s":"x1","t":28.109,"i":0.04},{"s":"x1","t":28.133,"i":0.15},{"s":"x1","t":28.151,"i":0.04},{"s":"x1","t":28.249,"i":0.04},{"s":"x1","t":28.272,"i":0.15},{"s":"x1","t":28.291,"i":0.10},{"s":"x1","t":28.307,"i":0},
{"s":"x2","t":28.012,"i":0},{"s":"x2","t":28.028,"i":0.19},{"s":"x2","t":28.040,"i":0.27},{"s":"x2","t":28.051,"i":0.10},{"s":"x2","t":28.067,"i":0}
],
"F26L":[{"l":"62","t":28.067,"i":5.56},{"l":"63","t":28.214,"i":1.63}],
"F27":[
{"s":"67","t":29.892,"i":0.05},{"s":"67","t":29.919,"i":0.02},{"s":"67","t":29.946,"i":0},{"s":"67","t":30.243,"i":0},{"s":"67","t":30.265,"i":0.15},{"s":"67","t":30.278,"i":0.55},{"s":"67","t":30.289,"i":0.62},{"s":"67","t":30.303,"i":0.35},{"s":"67","t":30.319,"i":0.05},{"s":"67","t":30.338,"i":0},
{"s":"64","t":29.892,"i":0},{"s":"64","t":30.000,"i":0.02},{"s":"64","t":30.027,"i":0.30},{"s":"64","t":30.049,"i":0.48},{"s":"64","t":30.068,"i":0.40},{"s":"64","t":30.086,"i":0.10},{"s":"64","t":30.108,"i":0},
{"s":"65","t":30.081,"i":0},{"s":"65","t":30.108,"i":0.10},{"s":"65","t":30.130,"i":0.45},{"s":"65","t":30.143,"i":0.57},{"s":"65","t":30.157,"i":0.45},{"s":"65","t":30.176,"i":0.10},{"s":"65","t":30.195,"i":0},
{"s":"x1","t":30.162,"i":0},{"s":"x1","t":30.189,"i":0.10},{"s":"x1","t":30.205,"i":0.15},{"s":"x1","t":30.222,"i":0.08},{"s":"x1","t":30.243,"i":0},
{"s":"66","t":30.211,"i":0},{"s":"66","t":30.230,"i":0.15},{"s":"66","t":30.243,"i":0.30},{"s":"66","t":30.257,"i":0.20},{"s":"66","t":30.276,"i":0.02},
{"s":"68","t":30.270,"i":0},{"s":"68","t":30.292,"i":0.30},{"s":"68","t":30.311,"i":0.70},{"s":"68","t":30.324,"i":0.75},{"s":"68","t":30.338,"i":0.65},{"s":"68","t":30.357,"i":0.35},{"s":"68","t":30.378,"i":0.25},{"s":"68","t":30.405,"i":0.20},{"s":"68","t":30.432,"i":0.18},{"s":"68","t":30.486,"i":0.10},{"s":"68","t":30.541,"i":0.05},{"s":"68","t":30.595,"i":0},
{"s":"69","t":30.324,"i":0},{"s":"69","t":30.351,"i":0.10},{"s":"69","t":30.370,"i":1.31},{"s":"69","t":30.384,"i":2.81},{"s":"69","t":30.395,"i":3.72},{"s":"69","t":30.405,"i":3.12},{"s":"69","t":30.419,"i":1.31},{"s":"69","t":30.432,"i":0.35},{"s":"69","t":30.454,"i":0.05},{"s":"69","t":30.486,"i":0},
{"s":"70","t":30.419,"i":0},{"s":"70","t":30.438,"i":0.20},{"s":"70","t":30.454,"i":0.50},{"s":"70","t":30.465,"i":0.42},{"s":"70","t":30.481,"i":0.10},{"s":"70","t":30.500,"i":0},
{"s":"71","t":30.514,"i":0},{"s":"71","t":30.535,"i":0.20},{"s":"71","t":30.549,"i":0.48},{"s":"71","t":30.562,"i":0.45},{"s":"71","t":30.576,"i":0.38},{"s":"71","t":30.589,"i":0.30},{"s":"71","t":30.608,"i":0.10},{"s":"71","t":30.635,"i":0},
{"s":"72","t":30.554,"i":0},{"s":"72","t":30.581,"i":0.10},{"s":"72","t":30.595,"i":0.50},{"s":"72","t":30.608,"i":1.81},{"s":"72","t":30.619,"i":2.21},{"s":"72","t":30.630,"i":1.81},{"s":"72","t":30.643,"i":0.50},{"s":"72","t":30.662,"i":0.15},{"s":"72","t":30.703,"i":0.05},{"s":"72","t":30.797,"i":0.02},
{"s":"73","t":30.676,"i":0},{"s":"73","t":30.697,"i":0.20},{"s":"73","t":30.711,"i":0.55},{"s":"73","t":30.724,"i":0.58},{"s":"73","t":30.738,"i":0.35},{"s":"73","t":30.757,"i":0.05},{"s":"73","t":30.797,"i":0}
],
"F27L":[{"l":"64","t":30.054,"i":0.72},{"l":"65","t":30.135,"i":0.78},{"l":"66","t":30.211,"i":0.50},{"l":"67","t":30.270,"i":0.78},{"l":"69","t":30.405,"i":3.92},{"l":"70","t":30.438,"i":0.65},{"l":"71","t":30.527,"i":0.72},{"l":"72","t":30.608,"i":2.39},{"l":"73","t":30.708,"i":0.72},{"l":"68","t":30.257,"i":1.69}],
"F27A":[{"t":30.292,"i":1.00,"t2":30.263,"i2":1.45}],
"F28":[
{"s":"73","t":32.566,"i":0},{"s":"73","t":32.592,"i":0.07},{"s":"73","t":32.618,"i":0.37},{"s":"73","t":32.645,"i":1.03},{"s":"73","t":32.663,"i":1.69},{"s":"73","t":32.679,"i":2.02},{"s":"73","t":32.697,"i":1.95},{"s":"73","t":32.716,"i":1.47},{"s":"73","t":32.737,"i":0.96},{"s":"73","t":32.763,"i":0.63},{"s":"73","t":32.789,"i":0.37},{"s":"73","t":32.816,"i":0.26},{"s":"73","t":32.842,"i":0.22},{"s":"73","t":32.868,"i":0.24},{"s":"73","t":32.895,"i":0.18},{"s":"73","t":32.934,"i":0.07},{"s":"73","t":32.974,"i":0.01},{"s":"73","t":33.053,"i":0.01},{"s":"73","t":33.158,"i":0.04},{"s":"73","t":33.211,"i":0.07},{"s":"73","t":33.263,"i":0.13},{"s":"73","t":33.316,"i":0.11},{"s":"73","t":33.368,"i":0.04},{"s":"73","t":33.468,"i":0.01},
{"s":"76","t":32.566,"i":0.07},{"s":"76","t":32.605,"i":0.11},{"s":"76","t":32.632,"i":0.07},{"s":"76","t":32.658,"i":0.01},{"s":"76","t":32.961,"i":0},{"s":"76","t":32.992,"i":0.22},{"s":"76","t":33.008,"i":1.32},{"s":"76","t":33.021,"i":2.02},{"s":"76","t":33.034,"i":1.88},{"s":"76","t":33.047,"i":1.10},{"s":"76","t":33.066,"i":0.51},{"s":"76","t":33.092,"i":0.29},{"s":"76","t":33.132,"i":0.26},{"s":"76","t":33.184,"i":0.22},{"s":"76","t":33.263,"i":0.11},{"s":"76","t":33.342,"i":0.04},{"s":"76","t":33.468,"i":0.01},
{"s":"74","t":32.816,"i":0},{"s":"74","t":32.842,"i":0.07},{"s":"74","t":32.868,"i":0.74},{"s":"74","t":32.887,"i":1.07},{"s":"74","t":32.903,"i":0.96},{"s":"74","t":32.921,"i":0.51},{"s":"74","t":32.947,"i":0.22},{"s":"74","t":32.987,"i":0.07},{"s":"74","t":33.026,"i":0.01},{"s":"74","t":33.079,"i":0.15},{"s":"74","t":33.105,"i":0.04},{"s":"74","t":33.158,"i":0.01},
{"s":"75","t":32.882,"i":0},{"s":"75","t":32.908,"i":0.15},{"s":"75","t":32.926,"i":0.96},{"s":"75","t":32.942,"i":1.76},{"s":"75","t":32.953,"i":1.84},{"s":"75","t":32.968,"i":1.47},{"s":"75","t":32.987,"i":0.74},{"s":"75","t":33.013,"i":0.29},{"s":"75","t":33.039,"i":0.15},{"s":"75","t":33.079,"i":0.09},{"s":"75","t":33.132,"i":0.04},
{"s":"77","t":33.066,"i":0},{"s":"77","t":33.084,"i":0.15},{"s":"77","t":33.100,"i":0.96},{"s":"77","t":33.113,"i":1.84},{"s":"77","t":33.126,"i":1.95},{"s":"77","t":33.139,"i":1.69},{"s":"77","t":33.158,"i":0.96},{"s":"77","t":33.184,"i":0.37},{"s":"77","t":33.211,"i":0.18},{"s":"77","t":33.263,"i":0.13},{"s":"77","t":33.316,"i":0.07},{"s":"77","t":33.368,"i":0.04},{"s":"77","t":33.468,"i":0.01},
{"s":"78","t":33.263,"i":0},{"s":"78","t":33.289,"i":0.07},{"s":"78","t":33.305,"i":0.66},{"s":"78","t":33.321,"i":1.25},{"s":"78","t":33.334,"i":1.29},{"s":"78","t":33.347,"i":1.03},{"s":"78","t":33.363,"i":0.44},{"s":"78","t":33.382,"i":0.15},{"s":"78","t":33.421,"i":0.04},{"s":"78","t":33.468,"i":0.01}
],
"F28L":[{"l":"73","t":32.684,"i":2.21},{"l":"74","t":32.882,"i":1.21},{"l":"75","t":32.947,"i":1.99},{"l":"76","t":33.039,"i":2.21},{"l":"77","t":33.132,"i":2.13},{"l":"78","t":33.316,"i":1.43}]
},
"concat":[
{"width":112,"height":136,"title":{"text":"F1"},"layer":[
 {"data":{"name":"F1"},"mark":{"type":"line","clip":true},"encoding":{
  "x":{"field":"t","type":"quantitative","scale":{"domain":[8.563,9.38],"nice":false,"zero":false},"axis":{"title":"Time [min]","labelOverlap":false,"tickCount":100,"values":[8.6,8.7,8.8,8.9,9,9.1,9.2,9.3],"labelExpr":"abs(datum.value - 9) < 0.001 ? '9' : ''"}},
  "y":{"field":"i","type":"quantitative","scale":{"domain":[-0.07,4],"nice":false,"zero":false},"axis":{"title":["Intens.","x10⁵"],"labelOverlap":false,"tickCount":100,"format":".0f","values":[0,0.5,1,1.5,2,2.5,3,3.5],"labelExpr":"indexof([0,1,2,3],datum.value) >= 0 ? datum.label : ''"}},
  "color":{"field":"s","type":"nominal","scale":{"domain":["5,8","6,7","9"],"range":["#e422de","#3ed63e","#e2281e"]},"legend":null}}},
 {"data":{"name":"F1L"},"mark":{"type":"text"},"encoding":{"x":{"field":"t","type":"quantitative"},"y":{"field":"i","type":"quantitative"},"text":{"field":"l"}}}
]},
{"width":112,"height":136,"title":{"text":"F3"},"layer":[
 {"data":{"name":"F3"},"mark":{"type":"line","clip":true},"encoding":{
  "x":{"field":"t","type":"quantitative","scale":{"domain":[11.249,12.028],"nice":false,"zero":false},"axis":{"title":"Time [min]","labelOverlap":false,"tickCount":100,"values":[11.3,11.4,11.5,11.6,11.7,11.8,11.9,12.0],"labelExpr":"abs(datum.value - 11.5) < 0.001 ? '11.5' : ''"}},
  "y":{"field":"i","type":"quantitative","scale":{"domain":[-0.05,3.17],"nice":false,"zero":false},"axis":{"title":["Intens.","x10⁵"],"labelOverlap":false,"tickCount":100,"format":".1f","values":[0,0.25,0.5,0.75,1,1.25,1.5,1.75,2,2.25,2.5,2.75,3],"labelExpr":"indexof([0,0.5,1,1.5,2,2.5],datum.value) >= 0 ? datum.label : ''"}},
  "color":{"field":"s","type":"nominal","scale":{"domain":["15","x1","x2","17","16","x3","x4","x5","x6","x7"],"range":["#3ed63e","#8cd45a","#2a2aa0","#8a2a10","#e2281e","#30c4e0","#f0a020","#e422de","#7a7a30","#1a8a80"]},"legend":null}}},
 {"data":{"name":"F3L"},"mark":{"type":"text"},"encoding":{"x":{"field":"t","type":"quantitative"},"y":{"field":"i","type":"quantitative"},"text":{"field":"l"}}}
]},
{"width":112,"height":136,"title":{"text":"F4"},"layer":[
 {"data":{"name":"F4"},"mark":{"type":"line","clip":true},"encoding":{
  "x":{"field":"t","type":"quantitative","scale":{"domain":[11.741,12.64],"nice":false,"zero":false},"axis":{"title":"Time [min]","labelOverlap":false,"tickCount":100,"values":[11.8,11.9,12,12.1,12.2,12.3,12.4,12.5,12.6],"labelExpr":"abs(datum.value - 12) < 0.001 ? '12' : ''"}},
  "y":{"field":"i","type":"quantitative","scale":{"domain":[-0.08,4.8],"nice":false,"zero":false},"axis":{"title":["Intens.","x10⁵"],"labelOverlap":false,"tickCount":100,"format":".0f","values":[0,0.2,0.4,0.6,0.8,1,1.2,1.4,1.6,1.8,2,2.2,2.4,2.6,2.8,3,3.2,3.4,3.6,3.8,4,4.2,4.4,4.6],"labelExpr":"indexof([0,1,2,3],datum.value) >= 0 ? datum.label : ''"}},
  "color":{"field":"s","type":"nominal","scale":{"domain":["x1","16","17","18","20","x2","x3"],"range":["#3ed63e","#8a2a10","#9a9a9a","#a8cc28","#2a62d8","#7a7a30","#f0a020"]},"legend":null}}},
 {"data":{"name":"F4L"},"mark":{"type":"text"},"encoding":{"x":{"field":"t","type":"quantitative"},"y":{"field":"i","type":"quantitative"},"text":{"field":"l"}}}
]},
{"width":112,"height":136,"title":{"text":"F6"},"layer":[
 {"data":{"name":"F6"},"mark":{"type":"line","clip":true},"encoding":{
  "x":{"field":"t","type":"quantitative","scale":{"domain":[12.678,13.687],"nice":false,"zero":false},"axis":{"title":"Time [min]","labelOverlap":false,"tickCount":100,"values":[12.7,12.8,12.9,13,13.1,13.2,13.3,13.4,13.5,13.6],"labelExpr":"abs(datum.value - 13) < 0.001 ? '13' : ''"}},
  "y":{"field":"i","type":"quantitative","scale":{"domain":[-0.08,4.9],"nice":false,"zero":false},"axis":{"title":["Intens.","x10⁵"],"labelOverlap":false,"tickCount":100,"format":".0f","values":[0,0.5,1,1.5,2,2.5,3,3.5,4,4.5],"labelExpr":"indexof([0,1,2,3,4],datum.value) >= 0 ? datum.label : ''"}},
  "color":{"field":"s","type":"nominal","scale":{"domain":["19","22","24","25","x1","x2","x3","x4"],"range":["#e2281e","#8a2a10","#1f7a1f","#2a62d8","#e8d020","#a8cc28","#3ed63e","#2a2aa0"]},"legend":null}}},
 {"data":{"name":"F6L"},"mark":{"type":"text"},"encoding":{"x":{"field":"t","type":"quantitative"},"y":{"field":"i","type":"quantitative"},"text":{"field":"l"}}}
]},
{"width":112,"height":136,"title":{"text":"F8"},"layer":[
 {"data":{"name":"F8"},"mark":{"type":"line","clip":true},"encoding":{
  "x":{"field":"t","type":"quantitative","scale":{"domain":[15.737,16.996],"nice":false,"zero":false},"axis":{"title":"Time [min]","labelOverlap":false,"tickCount":100,"values":[15.8,15.9,16,16.1,16.2,16.3,16.4,16.5,16.6,16.7,16.8,16.9],"labelExpr":"abs(datum.value - 16) < 0.001 ? '16·0' : ''"}},
  "y":{"field":"i","type":"quantitative","scale":{"domain":[-0.1,5.8],"nice":false,"zero":false},"axis":{"title":["Intens.","x10⁵"],"labelOverlap":false,"tickCount":100,"format":".0f","values":[0,0.5,1,1.5,2,2.5,3,3.5,4,4.5,5,5.5],"labelExpr":"indexof([0,1,2,3,4],datum.value) >= 0 ? datum.label : ''"}},
  "color":{"field":"s","type":"nominal","scale":{"domain":["27","x1","28","x2","x3","29","x4"],"range":["#3ed63e","#2a2aa8","#1c1c70","#e422de","#f0a020","#d8b020","#e2281e"]},"legend":null}}},
 {"data":{"name":"F8L"},"mark":{"type":"text"},"encoding":{"x":{"field":"t","type":"quantitative"},"y":{"field":"i","type":"quantitative"},"text":{"field":"l"}}}
]},
{"width":112,"height":136,"title":{"text":"F11"},"layer":[
 {"data":{"name":"F11"},"mark":{"type":"line","clip":true},"encoding":{
  "x":{"field":"t","type":"quantitative","scale":{"domain":[16.902,17.724],"nice":false,"zero":false},"axis":{"title":"Time [min]","labelOverlap":false,"tickCount":100,"values":[17,17.1,17.2,17.3,17.4,17.5,17.6,17.7],"labelExpr":"abs(datum.value - 17) < 0.001 ? '17' : ''"}},
  "y":{"field":"i","type":"quantitative","scale":{"domain":[-0.05,5.08],"nice":false,"zero":false},"axis":{"title":["Intens.","x10⁵"],"labelOverlap":false,"tickCount":100,"format":".0f","values":[0,0.5,1,1.5,2,2.5,3,3.5,4,4.5,5],"labelExpr":"indexof([0,1,2,3,4],datum.value) >= 0 ? datum.label : ''"}},
  "color":{"field":"s","type":"nominal","scale":{"domain":["29","30","x1","x2","34","33","32"],"range":["#e2281e","#30d0d8","#3ed63e","#556622","#1f1fa8","#4b3f8f","#e422de"]},"legend":null}}},
 {"data":{"name":"F11L"},"mark":{"type":"text"},"encoding":{"x":{"field":"t","type":"quantitative"},"y":{"field":"i","type":"quantitative"},"text":{"field":"l"}}},
 {"data":{"name":"F11A"},"mark":{"type":"rule"},"encoding":{"x":{"field":"t","type":"quantitative"},"y":{"field":"i","type":"quantitative"},"x2":{"field":"t2"},"y2":{"field":"i2"}}},
 {"data":{"name":"F11A"},"mark":{"type":"point","shape":"triangle-up","filled":true,"opacity":1,"angle":54,"size":50,"color":"#3d72b0"},"encoding":{"x":{"field":"t2","type":"quantitative"},"y":{"field":"i2","type":"quantitative"}}}
]},
{"width":112,"height":136,"title":{"text":"F12"},"layer":[
 {"data":{"name":"F12"},"mark":{"type":"line","clip":true},"encoding":{
  "x":{"field":"t","type":"quantitative","scale":{"domain":[17.825,18.663],"nice":false,"zero":false},"axis":{"title":"Time [min]","labelOverlap":false,"tickCount":100,"values":[17.9,18,18.1,18.2,18.3,18.4,18.5,18.6],"labelExpr":"abs(datum.value - 18) < 0.001 ? '18' : ''"}},
  "y":{"field":"i","type":"quantitative","scale":{"domain":[-0.05,5.73],"nice":false,"zero":false},"axis":{"title":["Intens.","x10⁵"],"labelOverlap":false,"tickCount":100,"format":".0f","values":[0,0.5,1,1.5,2,2.5,3,3.5,4,4.5,5,5.5],"labelExpr":"indexof([0,1,2,3,4],datum.value) >= 0 ? datum.label : ''"}},
  "color":{"field":"s","type":"nominal","scale":{"domain":["32","35","x1","33","34","36","37","x2"],"range":["#2a2aa0","#e2281e","#3ed63e","#e422de","#2020e0","#1a8a80","#8e2a5a","#1f7a1f"]},"legend":null}}},
 {"data":{"name":"F12L"},"mark":{"type":"text"},"encoding":{"x":{"field":"t","type":"quantitative"},"y":{"field":"i","type":"quantitative"},"text":{"field":"l"}}}
]},
{"width":112,"height":136,"title":{"text":"F13"},"layer":[
 {"data":{"name":"F13"},"mark":{"type":"line","clip":true},"encoding":{
  "x":{"field":"t","type":"quantitative","scale":{"domain":[18.573,19.854],"nice":false,"zero":false},"axis":{"title":"Time [min]","labelOverlap":false,"tickCount":100,"values":[18.6,18.7,18.8,18.9,19,19.1,19.2,19.3,19.4,19.5,19.6,19.7,19.8],"labelExpr":"abs(datum.value - 19) < 0.001 ? '19' : ''"}},
  "y":{"field":"i","type":"quantitative","scale":{"domain":[-0.1,7.7],"nice":false,"zero":false},"axis":{"title":["Intens.","x10⁵"],"labelOverlap":false,"tickCount":100,"format":".0f","values":[0,1,2,3,4,5,6,7],"labelExpr":"indexof([0,2,4,6],datum.value) >= 0 ? datum.label : ''"}},
  "color":{"field":"s","type":"nominal","scale":{"domain":["36","37"],"range":["#1a8a80","#8e2a5a"]},"legend":null}}},
 {"data":{"name":"F13L"},"mark":{"type":"text"},"encoding":{"x":{"field":"t","type":"quantitative"},"y":{"field":"i","type":"quantitative"},"text":{"field":"l"}}}
]},
{"width":112,"height":136,"title":{"text":"F16"},"layer":[
 {"data":{"name":"F16"},"mark":{"type":"line","clip":true},"encoding":{
  "x":{"field":"t","type":"quantitative","scale":{"domain":[20.588,21.588],"nice":false,"zero":false},"axis":{"title":"Time [min]","labelOverlap":false,"tickCount":100,"values":[20.6,20.7,20.8,20.9,21,21.1,21.2,21.3,21.4,21.5],"labelExpr":"abs(datum.value - 21) < 0.001 ? '21' : ''"}},
  "y":{"field":"i","type":"quantitative","scale":{"domain":[-0.1,8.6],"nice":false,"zero":false},"axis":{"title":["Intens.","x10⁵"],"labelOverlap":false,"tickCount":100,"format":".0f","values":[0,1,2,3,4,5,6,7,8],"labelExpr":"indexof([0,2,4,6],datum.value) >= 0 ? datum.label : ''"}},
  "color":{"field":"s","type":"nominal","scale":{"domain":["40-44","45","x1","x2","x3"],"range":["#1f7a1f","#3ed63e","#8a2a10","#333333","#e422de"]},"legend":null}}},
 {"data":{"name":"F16L"},"mark":{"type":"text"},"encoding":{"x":{"field":"t","type":"quantitative"},"y":{"field":"i","type":"quantitative"},"text":{"field":"l"}}}
]},
{"width":112,"height":136,"title":{"text":"F17"},"layer":[
 {"data":{"name":"F17"},"mark":{"type":"line","clip":true},"encoding":{
  "x":{"field":"t","type":"quantitative","scale":{"domain":[21.783,22.728],"nice":false,"zero":false},"axis":{"title":"Time [min]","labelOverlap":false,"tickCount":100,"values":[21.8,21.9,22,22.1,22.2,22.3,22.4,22.5,22.6,22.7],"labelExpr":"abs(datum.value - 22) < 0.001 ? '22' : ''"}},
  "y":{"field":"i","type":"quantitative","scale":{"domain":[-0.01,1.0],"nice":false,"zero":false},"axis":{"title":["Intens.","x10⁶"],"labelOverlap":false,"tickCount":100,"format":".1f","values":[0,0.1,0.2,0.3,0.4,0.5,0.6,0.7,0.8,0.9],"labelExpr":"indexof([0,0.2,0.4,0.6,0.8],datum.value) >= 0 ? datum.label : ''"}},
  "color":{"field":"s","type":"nominal","scale":{"domain":["48","47","x1","x2","46","x3"],"range":["#e422de","#8e2a5a","#30c4d0","#a8cc28","#3ed63e","#1a8a80"]},"legend":null}}},
 {"data":{"name":"F17L"},"mark":{"type":"text"},"encoding":{"x":{"field":"t","type":"quantitative"},"y":{"field":"i","type":"quantitative"},"text":{"field":"l"}}}
]},
{"width":112,"height":136,"title":{"text":"F18"},"layer":[
 {"data":{"name":"F18"},"mark":{"type":"line","clip":true},"encoding":{
  "x":{"field":"t","type":"quantitative","scale":{"domain":[22.654,23.476],"nice":false,"zero":false},"axis":{"title":"Time [min]","labelOverlap":false,"tickCount":100,"values":[22.7,22.8,22.9,23,23.1,23.2,23.3,23.4],"labelExpr":"abs(datum.value - 23) < 0.001 ? '23' : ''"}},
  "y":{"field":"i","type":"quantitative","scale":{"domain":[-0.05,5.1],"nice":false,"zero":false},"axis":{"title":["Intens.","x10⁵"],"labelOverlap":false,"tickCount":100,"format":".0f","values":[0,0.5,1,1.5,2,2.5,3,3.5,4,4.5,5],"labelExpr":"indexof([0,1,2,3,4],datum.value) >= 0 ? datum.label : ''"}},
  "color":{"field":"s","type":"nominal","scale":{"domain":["x1","44","x2","48","49","50","x3"],"range":["#222222","#1f7a1f","#2a62d8","#e422de","#8a2a10","#5a5aa8","#8a8a3a"]},"legend":null}}},
 {"data":{"name":"F18L"},"mark":{"type":"text"},"encoding":{"x":{"field":"t","type":"quantitative"},"y":{"field":"i","type":"quantitative"},"text":{"field":"l"}}}
]},
{"width":112,"height":136,"title":{"text":"F25"},"layer":[
 {"data":{"name":"F25"},"mark":{"type":"line","clip":true},"encoding":{
  "x":{"field":"t","type":"quantitative","scale":{"domain":[26.748,27.758],"nice":false,"zero":false},"axis":{"title":"Time [min]","labelOverlap":false,"tickCount":100,"values":[26.8,26.9,27,27.1,27.2,27.3,27.4,27.5,27.6,27.7],"labelExpr":"abs(datum.value - 27) < 0.001 ? '27' : ''"}},
  "y":{"field":"i","type":"quantitative","scale":{"domain":[-0.015,1.2],"nice":false,"zero":false},"axis":{"title":["Intens.","x10⁵"],"labelOverlap":false,"tickCount":100,"format":".1f","values":[0,0.1,0.2,0.3,0.4,0.5,0.6,0.7,0.8,0.9,1.0,1.1],"labelExpr":"indexof([0,0.2,0.4,0.6,0.8],datum.value) >= 0 ? datum.label : ''"}},
  "color":{"field":"s","type":"nominal","scale":{"domain":["59,61","x1","62"],"range":["#f0a020","#f4b040","#9a9a9a"]},"legend":null}}},
 {"data":{"name":"F25L"},"mark":{"type":"text"},"encoding":{"x":{"field":"t","type":"quantitative"},"y":{"field":"i","type":"quantitative"},"text":{"field":"l"}}}
]},
{"width":112,"height":136,"title":{"text":"F26"},"layer":[
 {"data":{"name":"F26"},"mark":{"type":"line","clip":true},"encoding":{
  "x":{"field":"t","type":"quantitative","scale":{"domain":[27.849,28.626],"nice":false,"zero":false},"axis":{"title":"Time [min]","labelOverlap":false,"tickCount":100,"values":[27.9,28,28.1,28.2,28.3,28.4,28.5,28.6],"labelExpr":"abs(datum.value - 28) < 0.001 ? '28' : ''"}},
  "y":{"field":"i","type":"quantitative","scale":{"domain":[-0.05,7.95],"nice":false,"zero":false},"axis":{"title":["Intens.","x10⁵"],"labelOverlap":false,"tickCount":100,"format":".0f","values":[0,1,2,3,4,5,6,7],"labelExpr":"indexof([0,2,4,6],datum.value) >= 0 ? datum.label : ''"}},
  "color":{"field":"s","type":"nominal","scale":{"domain":["62,63","x1","x2"],"range":["#9a9a9a","#f0a020","#1f7a1f"]},"legend":null}}},
 {"data":{"name":"F26L"},"mark":{"type":"text"},"encoding":{"x":{"field":"t","type":"quantitative"},"y":{"field":"i","type":"quantitative"},"text":{"field":"l"}}}
]},
{"width":112,"height":136,"title":{"text":"F27"},"layer":[
 {"data":{"name":"F27"},"mark":{"type":"line","clip":true},"encoding":{
  "x":{"field":"t","type":"quantitative","scale":{"domain":[29.892,30.797],"nice":false,"zero":false},"axis":{"title":"Time [min]","labelOverlap":false,"tickCount":100,"values":[29.9,30,30.1,30.2,30.3,30.4,30.5,30.6,30.7],"labelExpr":"abs(datum.value - 30) < 0.001 ? '30' : ''"}},
  "y":{"field":"i","type":"quantitative","scale":{"domain":[-0.05,4.17],"nice":false,"zero":false},"axis":{"title":["Intens.","x10⁵"],"labelOverlap":false,"tickCount":100,"format":".0f","values":[0,0.25,0.5,0.75,1,1.25,1.5,1.75,2,2.25,2.5,2.75,3,3.25,3.5,3.75,4],"labelExpr":"indexof([0,1,2,3],datum.value) >= 0 ? datum.label : ''"}},
  "color":{"field":"s","type":"nominal","scale":{"domain":["67","64","65","x1","66","68","69","70","71","72","73"],"range":["#e2281e","#2a2aa0","#3ed63e","#1f7a1f","#9a9a9a","#f0a020","#e422de","#2020e0","#f0c020","#1a8a80","#8e2a5a"]},"legend":null}}},
 {"data":{"name":"F27L"},"mark":{"type":"text"},"encoding":{"x":{"field":"t","type":"quantitative"},"y":{"field":"i","type":"quantitative"},"text":{"field":"l"}}},
 {"data":{"name":"F27A"},"mark":{"type":"rule"},"encoding":{"x":{"field":"t","type":"quantitative"},"y":{"field":"i","type":"quantitative"},"x2":{"field":"t2"},"y2":{"field":"i2"}}},
 {"data":{"name":"F27A"},"mark":{"type":"point","shape":"triangle-up","filled":true,"opacity":1,"angle":346,"size":50,"color":"#3d72b0"},"encoding":{"x":{"field":"t2","type":"quantitative"},"y":{"field":"i2","type":"quantitative"}}}
]},
{"width":112,"height":136,"title":{"text":"F28"},"layer":[
 {"data":{"name":"F28"},"mark":{"type":"line","clip":true},"encoding":{
  "x":{"field":"t","type":"quantitative","scale":{"domain":[32.566,33.468],"nice":false,"zero":false},"axis":{"title":"Time [min]","labelOverlap":false,"tickCount":100,"values":[32.6,32.7,32.8,32.9,33,33.1,33.2,33.3,33.4],"labelExpr":"abs(datum.value - 33) < 0.001 ? '33' : ''"}},
  "y":{"field":"i","type":"quantitative","scale":{"domain":[-0.03,3.05],"nice":false,"zero":false},"axis":{"title":["Intens.","x10⁵"],"labelOverlap":false,"tickCount":100,"format":".1f","values":[0,0.1,0.2,0.3,0.4,0.5,0.6,0.7,0.8,0.9,1,1.1,1.2,1.3,1.4,1.5,1.6,1.7,1.8,1.9,2,2.1,2.2,2.3,2.4,2.5,2.6,2.7,2.8,2.9,3],"labelExpr":"indexof([0,0.5,1,1.5,2],datum.value) >= 0 ? datum.label : ''"}},
  "color":{"field":"s","type":"nominal","scale":{"domain":["73","76","74","75","77","78"],"range":["#8e2a5a","#30c8d0","#9a9a9a","#a8cc28","#e422de","#2a62d8"]},"legend":null}}},
 {"data":{"name":"F28L"},"mark":{"type":"text"},"encoding":{"x":{"field":"t","type":"quantitative"},"y":{"field":"i","type":"quantitative"},"text":{"field":"l"}}}
]}
]
}
